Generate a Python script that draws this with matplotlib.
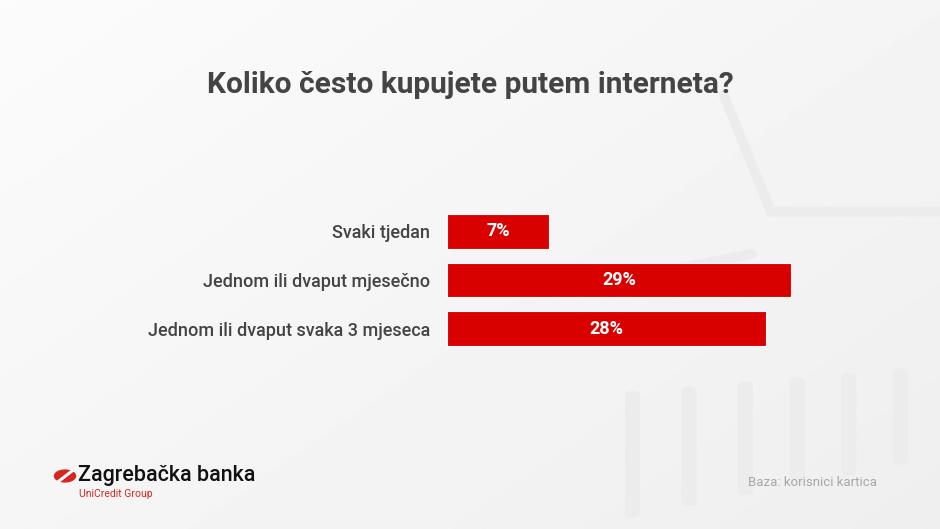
"""Koliko često kupujete putem interneta? — horizontal red bars on a pale card."""

import matplotlib

matplotlib.use("Agg")
import matplotlib.pyplot as plt
import numpy as np
from matplotlib.patches import Circle, FancyBboxPatch

categories = [
    "Svaki tjedan",
    "Jednom ili dvaput mjesečno",
    "Jednom ili dvaput svaka 3 mjeseca",
]
bar_lengths = [8.6, 29.0, 26.9]  # (the 7% bar is drawn wider)
value_labels = ["7%", "29%", "28%"]

TITLE = "Koliko često kupujete putem interneta?"
SOURCE = "Baza: korisnici kartica"

_RED = "#d90000"
_TEXT = "#444444"
_MUTED = "#a8a8a8"
_W, _H = 940, 529

plt.rcParams["font.family"] = ["Roboto", "DejaVu Sans"]

fig = plt.figure(figsize=(_W / 100, _H / 100), dpi=100)

# background: soft white-to-grey diagonal wash
bg = fig.add_axes([0, 0, 1, 1], zorder=-10)
yy, xx = np.mgrid[0:1:200j, 0:1:360j]
wash = 0.985 - 0.05 * (0.55 * xx + 0.45 * yy)
bg.imshow(wash, cmap="gray", vmin=0, vmax=1, extent=(0, 1, 0, 1), aspect="auto", origin="upper")
bg.set_xlim(0, 1)
bg.set_ylim(0, 1)
bg.axis("off")

# faint shopping-cart hints, bottom right
_FAINT = "#ececec"
for x0 in (0.665, 0.725, 0.785, 0.84, 0.895, 0.95):
    bg.add_patch(FancyBboxPatch((x0, 0.02 + (x0 - 0.66) * 0.35), 0.016, 0.24 - (x0 - 0.66) * 0.2,
                                boxstyle="round,pad=0,rounding_size=0.008",
                                color=_FAINT, lw=0, zorder=1))
bg.plot([0.77, 0.82, 1.0], [0.82, 0.6, 0.6], color=_FAINT, lw=7, solid_capstyle="round", zorder=1)
bg.plot([0.6, 0.8], [0.45, 0.52], color=_FAINT, lw=7, solid_capstyle="round", zorder=1)

# bars
ax = fig.add_axes([447 / _W, 1 - 352.75 / _H, (791 - 447) / _W, 145.5 / _H])
positions = np.arange(len(categories))
bars = ax.barh(positions, bar_lengths, height=0.72, color=_RED, edgecolor="white", linewidth=0.8)
ax.bar_label(bars, labels=value_labels, label_type="center", color="white",
             fontsize=13, fontweight="bold")
ax.set_xlim(0, max(bar_lengths))
ax.set_ylim(len(categories) - 0.5, -0.5)
ax.set_yticks(positions, categories)
ax.tick_params(axis="y", length=0, pad=12, labelsize=13, labelcolor=_TEXT)
ax.set_xticks([])
for label in ax.get_yticklabels():
    label.set_fontweight("medium")
for spine in ax.spines.values():
    spine.set_visible(False)
ax.patch.set_alpha(0)

# title
fig.text(470 / _W, 1 - 85 / _H, TITLE, ha="center", va="center",
         fontsize=21.5, fontweight="bold", color=_TEXT)

# source note
fig.text(877 / _W, 1 - 482 / _H, SOURCE, ha="right", va="center",
         fontsize=9.5, color=_MUTED)

# bank logo
bg.add_patch(Circle((65 / _W, 1 - 476 / _H), 10.5 / _W, transform=bg.transAxes,
                    color="#d8261e", zorder=3))
bg.plot([59 / _W, 72 / _W], [1 - 481 / _H, 1 - 471 / _H], color="white", lw=2.2, zorder=4)
fig.text(78 / _W, 1 - 476 / _H, "Zagrebačka banka", ha="left", va="center",
         fontsize=15.5, fontweight="medium", color="#111111")
fig.text(79 / _W, 1 - 494 / _H, "UniCredit Group", ha="left", va="center",
         fontsize=7.5, color="#d8261e")

fig.savefig("out.png", dpi=100)
